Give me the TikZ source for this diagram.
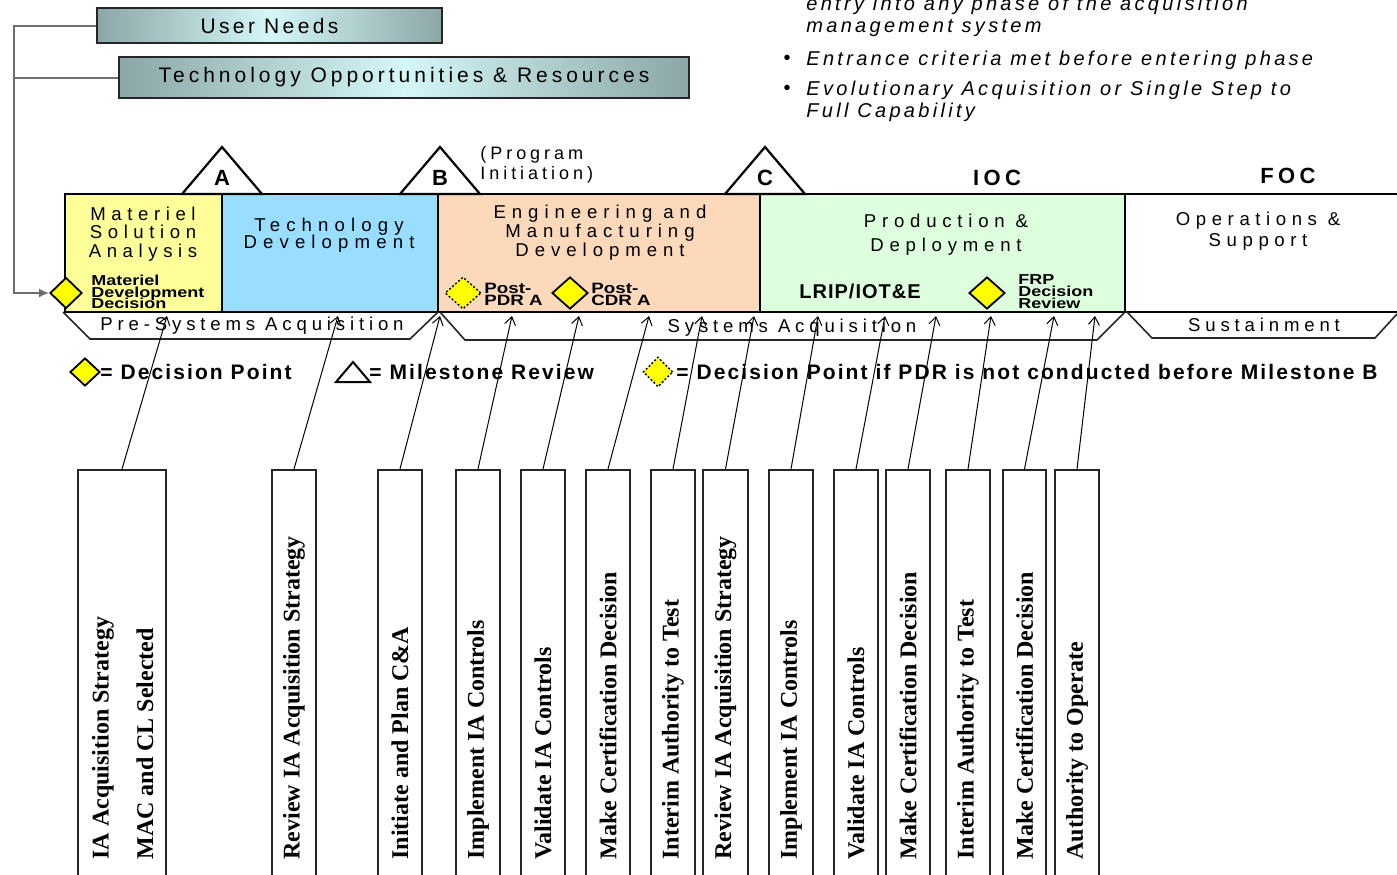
\documentclass[tikz,border=0pt]{standalone}
\usepackage{fontspec}
\setmainfont{Liberation Sans}
\newfontfamily\tnr{Liberation Serif}
\newfontfamily\stretchf[FakeStretch=1.25]{Liberation Sans}
\usetikzlibrary{shapes.geometric,arrows.meta}
\newcommand\ls[1]{\addfontfeature{LetterSpace=#1}}
\newcommand\fs[2]{\fontsize{#1}{#2}\selectfont\lineskiplimit=-20pt\relax}
\definecolor{msaY}{HTML}{FFFF99}
\definecolor{tdB}{HTML}{99DDFF}
\definecolor{emdP}{HTML}{FCD9BB}
\definecolor{pdG}{HTML}{DDFFDD}
\definecolor{dYel}{HTML}{FFFF00}
\definecolor{bEdge}{HTML}{8BA6A6}
\definecolor{bMid}{HTML}{D4F7F7}
\definecolor{lgray}{HTML}{6E6E6E}
\begin{document}
\begin{tikzpicture}[x=0.5pt,y=-0.5pt,
  topbox/.style={draw=black!85, line width=1.1pt, left color=bEdge, right color=bEdge, middle color=bMid, inner sep=0},
  feed/.style={draw=lgray, line width=1pt},
  phase/.style={draw=black, line width=1pt},
  phasetxt/.style={align=center, inner sep=0},
  bar/.style={draw=black!85, line width=0.8pt},
  bartxt/.style={font=\fs{9.3}{11}\ls{26}, inner sep=0},
  tri/.style={draw=black, line width=1.1pt, fill=white},
  ydia/.style={diamond, draw=black, line width=0.9pt, fill=dYel, inner sep=0, aspect=1},
  ddia/.style={diamond, draw=black, line width=0.7pt, dash pattern=on 1pt off 1pt, fill=dYel, inner sep=0, aspect=1},
  small/.style={font=\stretchf\bfseries\fs{7.2}{5.75}, align=left, inner sep=0, anchor=west},
  legtxt/.style={font=\bfseries\fs{10.5}{12}\ls{10}, inner sep=0, anchor=west},
  ibox/.style={draw=black!85, line width=0.75pt, fill=white, anchor=north, minimum height=204.5pt, inner sep=0},
  vtxt/.style={font=\tnr\bfseries\fs{12}{14}, rotate=90, anchor=west, inner sep=0},
  link/.style={draw=black, line width=0.5pt, -{Straight Barb[length=4pt,width=5.5pt]}},
  note/.style={font=\itshape\fs{10}{11}\ls{16.5}, inner sep=0, anchor=base west}
]
\useasboundingbox (0,0) rectangle (1397,874);

% top boxes
\node[topbox, minimum width=172.5pt, minimum height=17.5pt, font=\fs{10.5}{12}\ls{16}] (un) at (269.5,25.5) {User Needs};
\node[topbox, minimum width=285pt, minimum height=20.5pt, font=\fs{10.5}{12}\ls{19}] (to) at (404,77.5) {Technology Opportunities \& Resources};

% top right notes
\node[note] (n1) at (806,10) {entry into any phase of the acquisition};
\node[note] (n2) at (806,32) {management system};
\node[font=\fs{10}{11}, inner sep=0] (bu1) at (787,60) {•};
\node[note] (n3) at (806,65) {Entrance criteria met before entering phase};
\node[font=\fs{10}{11}, inner sep=0] (bu2) at (787,90) {•};
\node[note] (n4) at (806,95) {Evolutionary Acquisition or Single Step to};
\node[note] (n5) at (806,117) {Full Capability};

% phase row
\draw[phase, fill=msaY] (65,194) rectangle (222,312);
\draw[phase, fill=tdB] (222,194) rectangle (438,312);
\draw[phase, fill=emdP] (438,194) rectangle (760,312);
\draw[phase, fill=pdG] (760,194) rectangle (1125,312);
\draw[phase] (1125,194) -- (1397,194);
\draw[phase] (1125,312) -- (1397,312);

% milestones
\draw[tri] (182,194) -- (222,147) -- (262,194) -- cycle;
\draw[tri] (400,194) -- (440,147) -- (480,194) -- cycle;
\draw[tri] (725,194) -- (765,147) -- (805,194) -- cycle;
\node[font=\bfseries\fs{11}{12}, inner sep=0] (mA) at (222,178) {A};
\node[font=\bfseries\fs{11}{12}, inner sep=0] (mB) at (440,178) {B};
\node[font=\bfseries\fs{11}{12}, inner sep=0] (mC) at (765,178) {C};
\node[font=\fs{9}{10}\ls{22}, align=left, inner sep=0, anchor=west] (pi) at (480,165) {(Program\\Initiation)};
\node[font=\bfseries\fs{11}{12}\ls{20}, inner sep=0] (ioc) at (997,178) {IOC};
\node[font=\bfseries\fs{11}{12}\ls{20}, inner sep=0] (foc) at (1288,176) {FOC};

% phase labels
\node[phasetxt, font=\fs{9.3}{9.3}\ls{30}] (msa) at (143,234) {Materiel\\Solution\\Analysis};
\node[phasetxt, font=\fs{9.3}{8.6}\ls{33}] (td) at (329,235) {Technology\\Development};
\node[phasetxt, font=\fs{9.3}{9.5}\ls{32}] (emd) at (600,233) {Engineering and\\Manufacturing\\Development};
\node[phasetxt, font=\fs{9.3}{12}\ls{31}] (pd) at (946,235) {Production \&\\Deployment};
\node[phasetxt, font=\fs{9.3}{10.5}\ls{30}] (os) at (1258,231) {Operations \&\\Support};

% decision points in the row
\node[ydia, minimum width=16pt, minimum height=15.5pt] (mdd) at (66,293) {};
\node[small] (mddt) at (91,292) {Materiel\\Development\\Decision};
\node[ddia, minimum width=18pt, minimum height=16pt] (pdr) at (463,293) {};
\node[small, font=\stretchf\bfseries\fs{7.5}{6}] (pdrt) at (484,294) {Post-\\PDR A};
\node[ydia, minimum width=18pt, minimum height=16pt] (cdr) at (570,293) {};
\node[small, font=\stretchf\bfseries\fs{7.5}{6}] (cdrt) at (591,294) {Post-\\CDR A};
\node[font=\bfseries\fs{10}{11}\ls{5}, inner sep=0] (lrip) at (860,291) {LRIP/IOT\&E};
\node[ydia, minimum width=18pt, minimum height=16pt] (frp) at (987,293) {};
\node[small, font=\stretchf\bfseries\fs{7.2}{6}] (frpt) at (1018,292) {FRP\\Decision\\Review};

% feed line
\coordinate (c1) at (14,25.5);
\coordinate (c2) at (14,77.5);
\coordinate (c3) at (14,293);
\draw[feed, -{Latex[length=5pt,width=4.5pt]}] (un.west) -- (c1) -- (c3) -- (mdd.west);
\draw[feed] (to.west) -- (c2);

% acquisition bars
\draw[bar] (63,312) -- (90,339) -- (410,339) -- (438,312);
\node[bartxt] (psa) at (252,326) {Pre-Systems Acquisition};
\draw[bar] (440,312) -- (465,340) -- (1097,340) -- (1125,312);
\node[bartxt] (sa) at (792,328) {Systems Acquisition};
\draw[bar] (1127,312) -- (1152,338) -- (1375,338) -- (1397,314);
\node[bartxt] (sus) at (1264,325) {Sustainment};

% legend
\node[ydia, minimum width=15pt, minimum height=14pt] (lg1) at (85,372) {};
\node[legtxt] (lg1t) at (100,372) {= Decision Point};
\draw[line width=1pt] (336,382) -- (353,362) -- (370,382) -- cycle;
\node[legtxt] (lg2t) at (369,372) {= Milestone Review};
\node[ddia, minimum width=15pt, minimum height=15pt] (lg3) at (658,372) {};
\node[legtxt] (lg3t) at (676,372) {= Decision Point if PDR is not conducted before Milestone B};

% IA activity boxes
\foreach \i/\cx/\w/\tx in {1/122/44/167, 2/294/22/338, 3/400/22/440, 4/478/22/512, 5/543/22/579, 6/608/22/649, 7/673/22/702, 8/725.5/22.5/754, 9/791/22/818, 10/856/22/885, 11/908/22/936, 12/968/22/991, 13/1024.5/21.5/1054, 14/1077/22/1095} {
  \node[ibox, minimum width=\w pt] (b\i) at (\cx,469) {};
  \coordinate (p\i) at (\tx,316);
}
\foreach \i in {1,...,14} {\draw[link] (b\i.north) -- (p\i);}

\node[vtxt] (t1a) at (103,860) {IA Acquisition Strategy};
\node[vtxt] (t1b) at (145,860) {MAC and CL Selected};
\node[vtxt] (t2) at (294,860) {Review IA Acquisition Strategy};
\node[vtxt] (t3) at (400,860) {Initiate and Plan C\&A};
\node[vtxt] (t4) at (478,860) {Implement IA Controls};
\node[vtxt] (t5) at (543,860) {Validate IA Controls};
\node[vtxt] (t6) at (608,860) {Make Certification Decision};
\node[vtxt] (t7) at (673,860) {Interim Authority to Test};
\node[vtxt] (t8) at (725.5,860) {Review IA Acquisition Strategy};
\node[vtxt] (t9) at (791,860) {Implement IA Controls};
\node[vtxt] (t10) at (856,860) {Validate IA Controls};
\node[vtxt] (t11) at (908,860) {Make Certification Decision};
\node[vtxt] (t12) at (968,860) {Interim Authority to Test};
\node[vtxt] (t13) at (1024.5,860) {Make Certification Decision};
\node[vtxt] (t14) at (1077,860) {Authority to Operate};
\end{tikzpicture}
\end{document}
